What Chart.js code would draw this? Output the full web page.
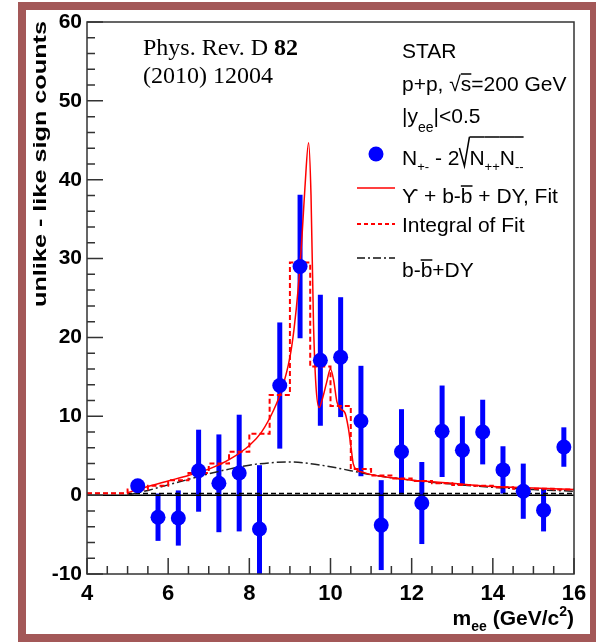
<!DOCTYPE html>
<html>
<head>
<meta charset="utf-8">
<script src="https://cdn.jsdelivr.net/npm/chart.js@4"></script>
<style>
  body { margin: 0; background: #fff; }
  canvas { display: block; }
</style>
</head>
<body>
<canvas id="c" width="596" height="643"></canvas>
<script>
// measured points (bin centres) and their errors
const massBins = [5.25, 5.75, 6.25, 6.75, 7.25, 7.75, 8.25, 8.75, 9.25, 9.75, 10.25,
                  10.75, 11.25, 11.75, 12.25, 12.75, 13.25, 13.75, 14.25, 14.75, 15.25, 15.75];
const counts = [1.2, -2.8, -2.9, 3.1, 1.5, 2.8, -4.3, 13.9, 29.0, 17.1, 17.5,
                9.4, -3.8, 5.5, -1.0, 8.1, 5.7, 8.0, 3.2, 0.5, -1.9, 6.1];
const errors = [0.8, 3.0, 3.5, 5.2, 6.2, 7.4, 8.1, 8.0, 9.1, 8.3, 7.6,
                7.0, 5.7, 5.4, 5.2, 5.8, 4.3, 4.1, 3.0, 3.5, 2.7, 2.5];

// Upsilon + b-bbar + DY fit
const fitMass = [5.0, 5.5, 6.0, 6.5, 7.0, 7.5, 8.0, 8.3, 8.6, 8.8, 9.0, 9.1, 9.2, 9.3, 9.37,
                 9.46, 9.52, 9.58, 9.64, 9.72, 9.8, 9.9, 10.0, 10.08, 10.16, 10.26, 10.36,
                 10.44, 10.5, 10.56, 10.65, 10.8, 11.0, 11.5, 12.0, 12.5, 13.0, 14.0, 15.0, 16.0];
const fitValues = [0.3, 1.1, 1.8, 2.5, 3.3, 4.5, 6.3, 8.0, 10.8, 13.4, 17.5, 21, 26, 33, 39,
                   44.7, 38, 22, 14, 11.1, 12.2, 14.2, 16.0, 14.5, 11.8, 10.9, 10.4,
                   8.5, 6.3, 4.0, 3.2, 2.9, 2.6, 2.2, 1.9, 1.7, 1.5, 1.1, 0.9, 0.7];

// integral of fit, per 0.5 GeV bin (left edges)
const histEdges = [4.0, 4.5, 5.0, 5.5, 6.0, 6.5, 7.0, 7.5, 8.0, 8.5, 9.0, 9.5, 10.0, 10.5,
                   11.0, 11.5, 12.0, 12.5, 13.0, 13.5, 14.0, 14.5, 15.0, 15.5];
const histValues = [0.25, 0.25, 0.7, 1.2, 1.9, 2.8, 4.0, 5.5, 7.8, 12.7, 29.5, 16.3, 11.3, 3.3,
                    2.5, 2.1, 1.8, 1.5, 1.3, 1.2, 1.0, 0.8, 0.8, 0.7];

// b-bbar + DY background
const bgMass = [5.0, 5.5, 6.0, 6.5, 7.0, 7.5, 8.0, 8.5, 9.0, 9.5, 10.0, 10.5, 11.0, 12.0, 13.0, 14.0, 15.0, 16.0];
const bgValues = [0.0, 0.6, 1.3, 2.0, 2.7, 3.3, 3.8, 4.1, 4.2, 4.0, 3.6, 3.1, 2.6, 1.9, 1.4, 1.0, 0.7, 0.5];

const xTicks = [4, 6, 8, 10, 12, 14, 16];
const yTicks = [-10, 0, 10, 20, 30, 40, 50, 60];
const yTitle = 'unlike - like sign counts';

const SANS = '"Liberation Sans", Arial, sans-serif';
const SERIF = '"Liberation Serif", "Times New Roman", serif';

// draws a run of text pieces: [text, size, dy, bold, overline, kind]
function rich(ctx, x, y, parts, family, align) {
  let total = 0;
  parts.forEach(p => {
    ctx.font = (p[3] ? 'bold ' : '') + p[1] + 'px ' + family;
    p.w = p[5] === 'rad' ? 10 : ctx.measureText(p[0]).width;
    total += p.w;
  });
  if (align === 'right') x -= total;
  ctx.textAlign = 'left';
  ctx.textBaseline = 'alphabetic';
  parts.forEach(p => {
    ctx.font = (p[3] ? 'bold ' : '') + p[1] + 'px ' + family;
    ctx.lineWidth = 1.5;
    if (p[5] === 'rad') {
      // hand drawn radical sign
      ctx.beginPath();
      ctx.moveTo(x, y - 17);
      ctx.lineTo(x + 5, y + 1);
      ctx.lineTo(x + 10, y - p[4]);
      ctx.stroke();
    } else {
      ctx.fillText(p[0], x, y + p[2]);
    }
    if (p[4]) {
      ctx.beginPath();
      ctx.moveTo(p[5] === 'rad' ? x + 10 : x, y - p[4]);
      ctx.lineTo(x + p.w, y - p[4]);
      ctx.stroke();
    }
    x += p.w;
  });
}

const rootStyle = {
  id: 'rootStyle',
  beforeDraw(chart) {
    const ctx = chart.ctx;
    ctx.save();
    ctx.fillStyle = '#fff';
    ctx.fillRect(0, 0, chart.width, chart.height);
    ctx.fillStyle = '#a35858';
    ctx.fillRect(18, 2, 578, 8);
    ctx.fillRect(18, 634, 578, 8);
    ctx.fillRect(18, 2, 8, 640);
    ctx.fillRect(590, 2, 6, 640);
    ctx.restore();
  },
  beforeDatasetsDraw(chart) {
    const {ctx, chartArea, scales: {x, y}} = chart;
    ctx.save();
    ctx.beginPath();
    ctx.rect(chartArea.left, chartArea.top, chartArea.width, chartArea.height);
    ctx.clip();
    ctx.strokeStyle = '#0000ff';
    ctx.lineWidth = 5;
    massBins.forEach((m, i) => {
      const px = x.getPixelForValue(m);
      ctx.beginPath();
      ctx.moveTo(px, y.getPixelForValue(counts[i] - errors[i]));
      ctx.lineTo(px, y.getPixelForValue(counts[i] + errors[i]));
      ctx.stroke();
    });
    ctx.restore();
  },
  afterDraw(chart) {
    const {ctx, chartArea: a, scales: {x, y}} = chart;
    ctx.save();
    // frame
    ctx.strokeStyle = '#333';
    ctx.lineWidth = 1.5;
    ctx.strokeRect(a.left, a.top, a.width, a.height);
    // ticks, pointing inwards
    ctx.beginPath();
    for (let v = -10; v <= 60; v += 2) {
      const py = y.getPixelForValue(v);
      const len = v % 10 === 0 ? 16 : 8;
      ctx.moveTo(a.left, py);
      ctx.lineTo(a.left + len, py);
    }
    for (let m = 4; m <= 16; m += 0.5) {
      const px = x.getPixelForValue(m);
      const len = m % 2 === 0 ? 16 : 8;
      ctx.moveTo(px, a.bottom);
      ctx.lineTo(px, a.bottom - len);
    }
    ctx.stroke();

    ctx.fillStyle = '#000';
    ctx.strokeStyle = '#000';

    // y title, stretched along its length like the original
    ctx.save();
    ctx.font = 'bold 18px ' + SANS;
    const tw = ctx.measureText(yTitle).width;
    ctx.translate(41, a.top - 1);
    ctx.rotate(-Math.PI / 2);
    ctx.scale(286 / tw, 1);
    ctx.textAlign = 'right';
    ctx.textBaseline = 'middle';
    ctx.fillText(yTitle, 0, 0);
    ctx.restore();

    // reference
    rich(ctx, 143, 55, [['Phys. Rev. D ', 24, 0], ['82', 24, 0, true]], SERIF);
    rich(ctx, 143, 83, [['(2010) 12004', 24, 0]], SERIF);

    // x title
    rich(ctx, 574, 625, [['m', 21, 0, true], ['ee', 14, 6, true], [' (GeV/c', 21, 0, true],
                         ['2', 14, -9, true], [')', 21, 0, true]], SANS, 'right');

    // legend block
    const lx = 402;
    rich(ctx, lx, 58, [['STAR', 21, 0]], SANS);
    rich(ctx, lx, 91, [['p+p, ', 21, 0], ['\u221A', 21, 0], ['s', 21, 0, false, 17], ['=200 GeV', 21, 0]], SANS);
    rich(ctx, lx, 123, [['|y', 21, 0], ['ee', 14, 9], ['|<0.5', 21, 0]], SANS);
    rich(ctx, lx, 165, [['N', 21, 0], ['+-', 13, 6], [' - 2', 21, 0], ['', 21, 0, false, 28, 'rad'],
                        ['N', 21, 0, false, 28], ['++', 13, 6, false, 28], ['N', 21, 0, false, 28], ['--', 13, 6, false, 28]], SANS);
    rich(ctx, lx, 203, [['\u03D2 + b-', 21, 0], ['b', 21, 0, false, 17], [' + DY, Fit', 21, 0]], SANS);
    rich(ctx, lx, 232, [['Integral of Fit', 21, 0]], SANS);
    rich(ctx, lx, 277, [['b-', 21, 0], ['b', 21, 0, false, 17], ['+DY', 21, 0]], SANS);

    // legend markers
    ctx.fillStyle = '#0000ff';
    ctx.beginPath();
    ctx.arc(376, 154, 7.5, 0, Math.PI * 2);
    ctx.fill();
    ctx.lineWidth = 1.5;
    ctx.strokeStyle = '#ff0000';
    ctx.beginPath();
    ctx.moveTo(357, 188); ctx.lineTo(395, 188);
    ctx.stroke();
    ctx.lineWidth = 2;
    ctx.setLineDash([4, 3]);
    ctx.beginPath();
    ctx.moveTo(357, 224); ctx.lineTo(395, 224);
    ctx.stroke();
    ctx.strokeStyle = '#111';
    ctx.lineWidth = 1.5;
    ctx.setLineDash([8, 3, 2, 3]);
    ctx.beginPath();
    ctx.moveTo(357, 258); ctx.lineTo(395, 258);
    ctx.stroke();
    ctx.restore();
  }
};

const ctx = document.getElementById('c').getContext('2d');
new Chart(ctx, {
  type: 'scatter',
  data: {
    datasets: [
      {
        label: 'N+- - 2sqrt(N++N--)',
        data: massBins.map((m, i) => ({x: m, y: counts[i]})),
        backgroundColor: '#0000ff',
        borderColor: '#0000ff',
        pointRadius: 7.5,
        borderWidth: 0
      },
      {
        label: 'Upsilon + b-bbar + DY, Fit',
        data: fitMass.map((m, i) => ({x: m, y: fitValues[i]})),
        showLine: true,
        borderColor: '#ff0000',
        borderWidth: 1.5,
        pointRadius: 0,
        cubicInterpolationMode: 'monotone'
      },
      {
        label: 'Integral of Fit',
        data: histEdges.map((m, i) => ({x: m, y: histValues[i]}))
              .concat([{x: 16, y: histValues[histValues.length - 1]}]),
        showLine: true,
        stepped: true,
        borderColor: '#ff0000',
        borderWidth: 2,
        borderDash: [5, 3],
        pointRadius: 0
      },
      {
        label: 'b-bbar+DY',
        data: bgMass.map((m, i) => ({x: m, y: bgValues[i]})),
        showLine: true,
        borderColor: '#222',
        borderWidth: 1.5,
        borderDash: [9, 3, 2, 3],
        pointRadius: 0,
        cubicInterpolationMode: 'monotone'
      },
      {
        label: 'zero dashed',
        data: [{x: 4, y: 0.2}, {x: 16, y: 0.2}],
        showLine: true,
        borderColor: '#000',
        borderWidth: 1.5,
        borderDash: [5, 3],
        pointRadius: 0
      },
      {
        label: 'zero',
        data: [{x: 4, y: 0}, {x: 16, y: 0}],
        showLine: true,
        borderColor: '#000',
        borderWidth: 1.5,
        pointRadius: 0
      }
    ]
  },
  options: {
    responsive: false,
    animation: false,
    devicePixelRatio: 1,
    layout: { padding: { top: 22, right: 22, left: 0, bottom: 0 } },
    plugins: { legend: { display: false }, tooltip: { enabled: false } },
    scales: {
      x: {
        type: 'linear',
        min: 4,
        max: 16,
        afterFit: s => { s.height = 69; },
        afterBuildTicks: s => { s.ticks = xTicks.map(v => ({value: v})); },
        grid: { display: false, drawTicks: false },
        border: { display: false },
        ticks: { padding: 7, color: '#000', font: { family: SANS, size: 22, weight: 'bold' } }
      },
      y: {
        min: -10,
        max: 60,
        afterFit: s => { s.width = 87; },
        afterBuildTicks: s => { s.ticks = yTicks.map(v => ({value: v})); },
        grid: { display: false, drawTicks: false },
        border: { display: false },
        ticks: { padding: 5, color: '#000', font: { family: SANS, size: 21, weight: 'bold' } }
      }
    }
  },
  plugins: [rootStyle]
});
</script>
</body>
</html>
